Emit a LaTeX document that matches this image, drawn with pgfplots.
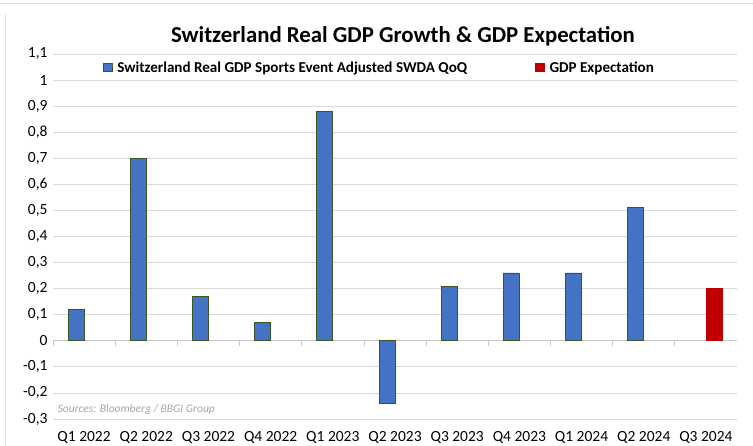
\documentclass[border=0pt]{standalone}
\usepackage{pgfplots}
\pgfplotsset{compat=1.18}
\usepackage{fontspec}
\setmainfont{Carlito}
\definecolor{barblue}{HTML}{4472C4}
\definecolor{barborder}{HTML}{385723}
\definecolor{barred}{HTML}{C00000}
\definecolor{gridgray}{HTML}{D9D9D9}
\definecolor{axisgray}{HTML}{C8C8C8}
\definecolor{srcgray}{HTML}{A6A6A6}
\begin{document}
\begin{tikzpicture}[x=1bp,y=1bp]
\useasboundingbox (0,0) rectangle (753,446);
\fill[white] (0,0) rectangle (753,446);
\draw[gray!25, line width=1bp] (0,442.5) -- (753,442.5);
\draw[gray!25, line width=1bp] (5,0) -- (5,432);
\node[font=\bfseries\fontsize{22.8bp}{26bp}\selectfont] at (403,410) {Switzerland Real GDP Growth \& GDP Expectation};
\begin{axis}[at={(53bp,27bp)}, anchor=south west, scale only axis,
  width=684bp, height=365bp,
  xmin=-0.5, xmax=10.5, ymin=-0.3, ymax=1.1,
  ybar=0pt, bar width=16bp,
  xtick={0,...,10},
  xticklabels={Q1 2022,Q2 2022,Q3 2022,Q4 2022,Q1 2023,Q2 2023,Q3 2023,Q4 2023,Q1 2024,Q2 2024,Q3 2024},
  ytick={-0.3,-0.2,-0.1,0,0.1,0.2,0.3,0.4,0.5,0.6,0.7,0.8,0.9,1,1.1},
  ymajorgrids, major grid style={draw=gridgray, line width=0.8bp},
  axis line style={draw=none}, tick style={draw=none},
  tick label style={font=\fontsize{15.5bp}{18bp}\selectfont, text=black},
  yticklabel style={xshift=-2bp, /pgf/number format/.cd, fixed, precision=1, use comma, assume math mode=true},
  xticklabel style={yshift=-5bp},
  legend columns=2,
  legend style={at={(rel axis cs:0.073,0.962)}, anchor=west, draw=none, fill=none,
    inner sep=0pt,
    font=\bfseries\fontsize{15.1bp}{18bp}\selectfont,
    /tikz/every odd column/.append style={column sep=3bp},
    /tikz/every even column/.append style={column sep=66bp}},
  legend image code/.code={\filldraw[#1] (0bp,-4bp) rectangle (8.5bp,4.5bp);},
]
\draw[draw=axisgray, line width=0.8bp] (axis cs:-0.5,0) -- (axis cs:10.5,0);
\pgfplotsinvokeforeach{-0.5,0.5,1.5,2.5,3.5,4.5,5.5,6.5,7.5,8.5,9.5,10.5}{
  \draw[draw=axisgray, line width=0.8bp] (axis cs:#1,0) -- ([yshift=-5bp]axis cs:#1,0);
}
\addplot[fill=barblue, draw=barborder, line width=0.8bp] coordinates {
  (0,0.12) (1,0.70) (2,0.17) (3,0.07) (4,0.88) (5,-0.24) (6,0.21) (7,0.26) (8,0.26) (9,0.51)};
\addlegendentry{Switzerland Real GDP Sports Event Adjusted SWDA QoQ}
\addplot[fill=barred, draw=barred, line width=0.8bp] coordinates {(10,0.20)};
\addlegendentry{GDP Expectation}
\node[anchor=west, font=\itshape\fontsize{11.5bp}{13bp}\selectfont, text=srcgray] at (axis cs:-0.48,-0.262) {Sources: Bloomberg / BBGI Group};
\end{axis}
\end{tikzpicture}
\end{document}
